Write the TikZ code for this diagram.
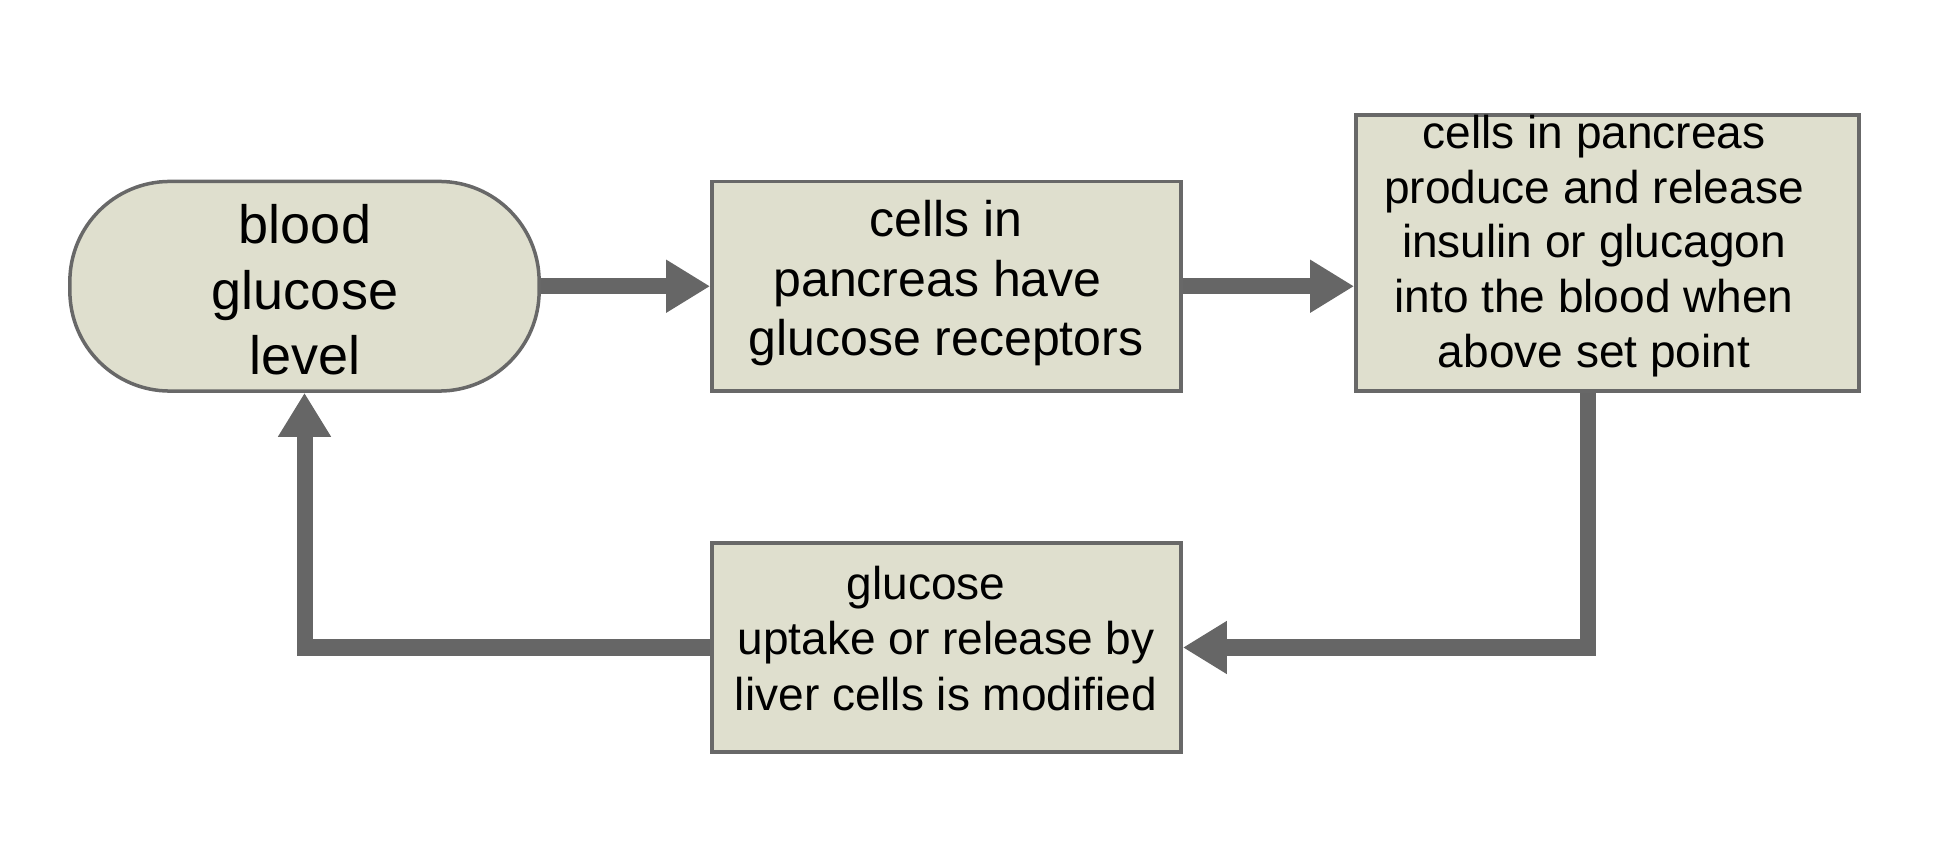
\documentclass[tikz,border=0pt]{standalone}
\usepackage{fontspec}
\setmainfont{Liberation Sans}
\usetikzlibrary{arrows.meta}
\definecolor{boxfill}{RGB}{223,223,206}
\definecolor{edgegray}{RGB}{104,104,104}
\definecolor{flowgray}{RGB}{102,102,102}
\tikzset{
  stagebox/.style={draw=edgegray, line width=0.035cm, fill=boxfill, inner sep=0pt},
  flow/.style={draw=flowgray, line width=0.16cm, line join=miter,
    -{Triangle[length=0.44cm,width=0.5cm]}},
  txt/.style={align=center, inner sep=0pt, text=black},
  bigfont/.style={font=\fontsize{0.54cm}{0.65cm}\selectfont},
  midfont/.style={font=\fontsize{0.50cm}{0.593cm}\selectfont},
  smallfont/.style={font=\fontsize{0.46cm}{0.557cm}\selectfont},
  rightfont/.style={font=\fontsize{0.46cm}{0.547cm}\selectfont}
}
\begin{document}
\begin{tikzpicture}[x=0.01cm,y=-0.01cm]
\useasboundingbox (0,0) rectangle (1946,864);
% boxes
\node[stagebox, rounded corners=1cm, minimum width=4.69cm, minimum height=2.095cm] (bg) at (304.5,286.25) {};
\node[stagebox, minimum width=4.69cm, minimum height=2.095cm] (mid) at (946.5,286.25) {};
\node[stagebox, minimum width=5.03cm, minimum height=2.76cm] (rb) at (1607.5,253) {};
\node[stagebox, minimum width=4.69cm, minimum height=2.09cm] (bot) at (946.5,647.5) {};
% texts
\node[txt, bigfont] (bgt) at (305,289.7) {blood\\glucose\\level};
\node[txt, midfont] (midt) at (946,283.2) {cells in\\\hbox{pancreas have\kern0.17cm}\\glucose receptors};
\node[txt, rightfont] (rbt) at (1594,245.9) {cells in pancreas\\produce and release\\insulin or glucagon\\into the blood when\\above set point};
\node[txt, smallfont] (bott) at (946,638.5) {\hbox{glucose\kern0.4cm}\\uptake or release by\\liver cells is modified};
% connectors
\draw[flow] (bg.east) -- (mid.west);
\draw[flow] (mid.east) -- (mid.east -| rb.west);
\draw[flow] ([xshift=-0.195cm]rb.south) |- (bot.east);
\draw[flow] (bot.west) -| (bg.south);
\end{tikzpicture}
\end{document}
